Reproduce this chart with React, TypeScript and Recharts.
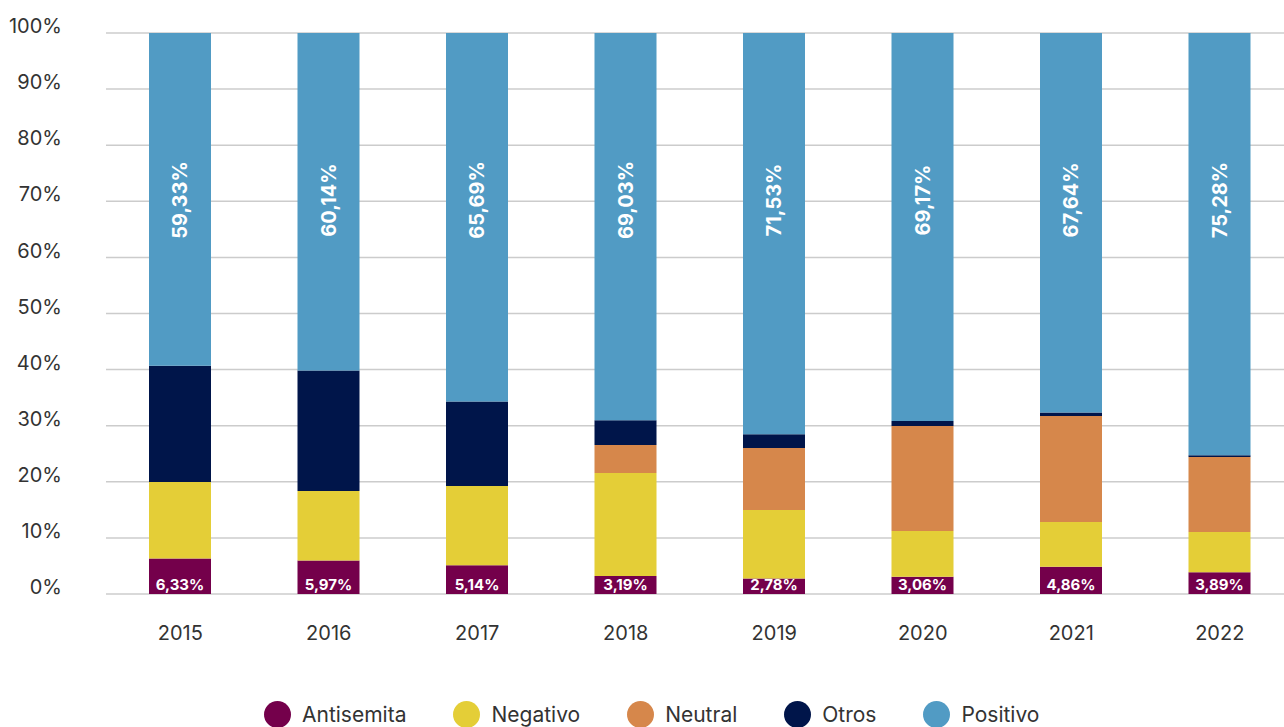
import React from 'react';
import {
    BarChart,
    Bar,
    XAxis,
    YAxis,
    CartesianGrid,
    LabelList,
} from 'recharts';

const years = ['2015', '2016', '2017', '2018', '2019', '2020', '2021', '2022'];
const antisemita = [6.33, 5.97, 5.14, 3.19, 2.78, 3.06, 4.86, 3.89];
const negativo = [13.63, 12.39, 14.11, 18.38, 12.19, 8.17, 7.97, 7.16];
const neutral = [0, 0, 0, 4.99, 11.05, 18.72, 18.9, 13.37];
const otros = [20.71, 21.5, 15.06, 4.41, 2.45, 0.88, 0.63, 0.3];
const positivo = [59.33, 60.14, 65.69, 69.03, 71.53, 69.17, 67.64, 75.28];
const yTicks = [0, 10, 20, 30, 40, 50, 60, 70, 80, 90, 100];

const series = [
    { key: 'Antisemita', color: '#74004b' },
    { key: 'Negativo', color: '#e4ce37' },
    { key: 'Neutral', color: '#d6874b' },
    { key: 'Otros', color: '#00154a' },
    { key: 'Positivo', color: '#519bc4' },
];

const data = years.map((year, i) => ({
    year,
    Antisemita: antisemita[i],
    Negativo: negativo[i],
    Neutral: neutral[i],
    Otros: otros[i],
    Positivo: positivo[i],
}));

const fmt = (v: number) => v.toFixed(2).replace('.', ',') + '%';

const font = 'Inter, "Noto Sans", sans-serif';

// rotated label near the top of the Positivo segment
function PositivoLabel(props: any) {
    const { x, y, width, value } = props;
    const cx = x + width / 2;
    const cy = y + 167;
    return (
        <text
            x={cx}
            y={cy}
            transform={`rotate(-90 ${cx} ${cy})`}
            textAnchor="middle"
            dominantBaseline="central"
            fill="#fff"
            fontWeight={700}
            fontSize={20}
            fontFamily={font}
        >
            {fmt(value)}
        </text>
    );
}

export default function App() {
    return (
        <div
            style={{
                position: 'fixed',
                left: 0,
                top: 0,
                width: 1284,
                height: 727,
                overflow: 'hidden',
                background: '#fff',
                fontFamily: font,
            }}
        >
            <BarChart
                width={1300}
                height={727}
                data={data}
                margin={{ top: 33, right: 6, left: 0, bottom: 0 }}
                barSize={62}
            >
                <CartesianGrid vertical={false} stroke="#cccccc" strokeWidth={1.5} />
                <XAxis
                    dataKey="year"
                    axisLine={false}
                    tickLine={false}
                    height={133}
                    tickSize={0}
                    tickMargin={32}
                    tick={{ fill: '#333', fontSize: 20, fontFamily: font }}
                />
                <YAxis
                    domain={[0, 100]}
                    ticks={yTicks}
                    width={106}
                    axisLine={false}
                    tickLine={false}
                    tickSize={0}
                    tickMargin={44}
                    tickFormatter={(v: number) => `${v}%`}
                    tick={{ fill: '#333', fontSize: 20, fontFamily: font, dy: -7 }}
                />
                {series.map((s) => (
                    <Bar
                        key={s.key}
                        dataKey={s.key}
                        stackId="a"
                        fill={s.color}
                        isAnimationActive={false}
                    >
                        {s.key === 'Antisemita' && (
                            <LabelList
                                dataKey="Antisemita"
                                position="insideBottom"
                                offset={4}
                                formatter={(v: any) => fmt(Number(v))}
                                fill="#fff"
                                fontWeight={700}
                                fontSize={15}
                                fontFamily={font}
                            />
                        )}
                        {s.key === 'Positivo' && (
                            <LabelList dataKey="Positivo" content={PositivoLabel} />
                        )}
                    </Bar>
                ))}
            </BarChart>
            <div
                style={{
                    position: 'absolute',
                    left: 264,
                    top: 701,
                    display: 'flex',
                    alignItems: 'center',
                    gap: 47,
                    fontSize: 21,
                    color: '#333',
                }}
            >
                {series.map((s) => (
                    <div key={s.key} style={{ display: 'flex', alignItems: 'center' }}>
                        <span
                            style={{
                                display: 'inline-block',
                                width: 27,
                                height: 27,
                                borderRadius: '50%',
                                background: s.color,
                                marginRight: 11,
                            }}
                        />
                        <span>{s.key}</span>
                    </div>
                ))}
            </div>
        </div>
    );
}
